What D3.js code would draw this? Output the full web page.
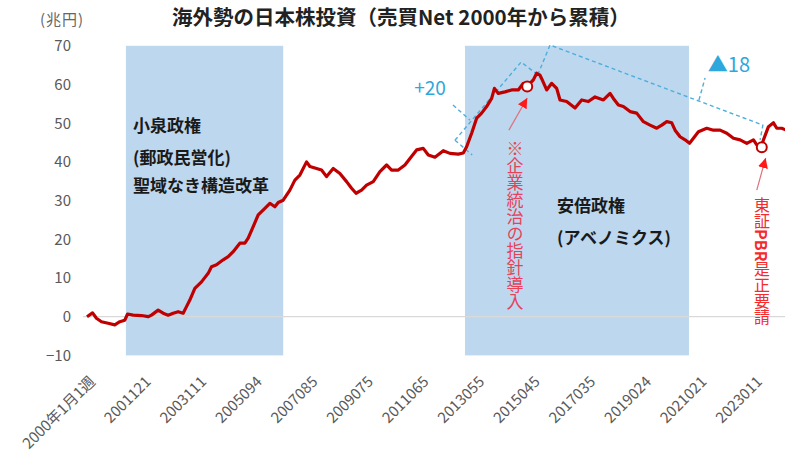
<!DOCTYPE html>
<html>
<head>
<meta charset="utf-8">
<script src="https://cdn.jsdelivr.net/npm/d3@7"></script>
<style>
  body { margin: 0; background: #fff; }
  svg { display: block; font-family: "Noto Sans CJK JP", "Noto Sans", sans-serif; }
</style>
</head>
<body>
<svg id="chart" width="785" height="470"></svg>
<script>
// week index counted from 2000年1月1週, cumulative net buying (兆円)
var weeks = [0,10,17,26,38,50,59,68,73,83,98,110,116,128,137,146,155,164,173,179,
  185,194,206,218,224,233,245,254,263,275,284,290,299,308,320,329,338,344,353,365,
  374,383,395,401,413,422,431,443,455,467,476,484,494,503,515,527,539,548,560,572,
  581,593,605,614,626,641,653,668,677,683,692,701,710,719,728,733,740,752,764,776,
  785,792,803,809,815,818,827,836,845,851,863,878,890,902,914,929,941,947,956,965,
  977,989,1001,1013,1025,1034,1043,1052,1058,1067,1076,1084,1091,1100,1115,1127,1139,1151,1163,1175,
  1187,1199,1205,1213,1217,1226,1235,1241,1250,1258];
var values = [0,1.0,-0.4,-1.3,-1.7,-2.1,-1.3,-0.9,0.7,0.4,0.3,0,0.4,1.7,0.9,0.4,0.9,1.3,0.9,2.6,
  4.3,7.3,9.0,11.2,12.9,13.4,14.7,15.5,16.8,19.0,19.0,20.3,23.3,26.3,28.0,29.3,28.4,29.5,30.1,32.7,
  35.3,36.6,40.0,38.8,38.3,37.9,36.2,38.3,37.0,34.9,33.2,31.9,32.7,34.0,34.9,37.5,39.2,37.9,37.9,39.2,
  40.9,43.1,43.5,41.8,41.2,42.9,42.2,42.0,42.3,43.9,47.4,51.3,52.6,54.3,56.4,59.0,57.7,58.1,58.6,58.6,
  60.3,59.5,61.2,62.9,62.4,61.5,58.6,60.3,59.0,56.0,55.6,53.9,56.0,55.6,56.8,56.0,57.7,56.4,54.7,54.3,
  53.0,52.6,50.4,49.5,48.7,49.5,50.4,50.1,48.2,46.5,45.7,44.8,46.1,47.8,48.7,48.2,48.2,47.4,46.1,45.7,
  44.8,45.7,44.4,43.8,45.7,49.1,50.1,48.7,48.7,48.2];

var tickWeeks = [0,100,200,300,400,500,600,700,800,900,1000,1100,1200];
var tickLabels = ["2000年1月1週","2001121","2003111","2005094","2007085","2009075",
  "2011065","2013055","2015045","2017035","2019024","2021021","2023011"];
var yTicks = [-10,0,10,20,30,40,50,60,70];

// government periods (week index)
var eraNames = [["小泉政権","(郵政民営化)","聖域なき構造改革"], ["安倍政権","(アベノミクス)"]];
var eraStart = [70, 680];
var eraEnd = [353, 1083];

// marked events [week, value]
var eventPoints = [[792, 59.5], [1214, 43.8]];

var svg = d3.select("#chart");

var x = d3.scaleLinear().domain([0, 1200]).range([87, 754]);
var y = d3.scaleLinear().domain([-10, 70]).range([355.4, 45.8]);

// shaded periods
svg.selectAll(".era")
  .data(eraStart)
  .enter()
  .append("rect")
  .attr("x", function (d) { return x(d); })
  .attr("width", function (d, i) { return x(eraEnd[i]) - x(d); })
  .attr("y", y(70))
  .attr("height", y(-10) - y(70))
  .attr("fill", "#bdd7ee");

// zero line
svg.append("line")
  .attr("x1", 83).attr("x2", 785)
  .attr("y1", y(0)).attr("y2", y(0))
  .attr("stroke", "#d9d9d9")
  .attr("stroke-width", 1.2);

// y axis labels
var yAxis = svg.append("g")
  .attr("transform", "translate(75,0)")
  .call(d3.axisLeft(y).tickValues(yTicks).tickSize(0).tickPadding(4));
yAxis.select(".domain").remove();
yAxis.selectAll("text")
  .attr("font-size", 15)
  .attr("font-family", "Noto Sans CJK JP")
  .attr("fill", "#595959");

// x axis labels
var xAxis = svg.append("g")
  .attr("transform", "translate(5,379)")
  .call(d3.axisBottom(x).tickValues(tickWeeks).tickSize(0)
    .tickFormat(function (d, i) { return tickLabels[i]; }));
xAxis.select(".domain").remove();
xAxis.selectAll("text")
  .attr("font-size", 15)
  .attr("font-family", "Noto Sans CJK JP")
  .attr("fill", "#595959")
  .attr("text-anchor", "end")
  .attr("dy", "0.35em")
  .attr("y", 0)
  .attr("transform", "rotate(-45)");

// era captions
var eraText = [[133, [126, 158, 186]], [557, [206, 238]]];
eraNames.forEach(function (lines, k) {
  lines.forEach(function (s, j) {
    svg.append("text")
      .attr("x", eraText[k][0])
      .attr("y", eraText[k][1][j])
      .attr("dy", "0.35em")
      .attr("font-size", 17)
      .attr("font-weight", "bold")
      .attr("fill", "#1a1a1a")
      .text(s);
  });
});

// dashed brackets (+20 rise, ▲18 fall)
var dash = [
  [[662, 45.6], [781, 65.8], [811, 62.5]],
  [[662, 45.6], [693, 41.8]],
  [[658.5, 54.7], [689, 50.8]],
  [[811, 62.5], [833, 70.2], [1216, 49.5], [1211, 45.7]],
  [[1101, 56.0], [1112, 61.7]]
];
var dashLine = d3.line()
  .x(function (d) { return x(d[0]); })
  .y(function (d) { return y(d[1]); });
svg.selectAll(".bracket")
  .data(dash)
  .enter()
  .append("path")
  .attr("d", dashLine)
  .attr("fill", "none")
  .attr("stroke", "#4eaedb")
  .attr("stroke-width", 1.4)
  .attr("stroke-dasharray", "4,3");

svg.append("text")
  .attr("x", x(617)).attr("y", y(59.1))
  .attr("dy", "0.35em")
  .attr("text-anchor", "middle")
  .attr("font-size", 19)
  .attr("fill", "#2ea7dc")
  .text("+20");
svg.append("text")
  .attr("x", x(1117)).attr("y", y(63.2))
  .attr("font-size", 20)
  .attr("fill", "#2ea7dc")
  .text("▲18");

// main line
var line = d3.line()
  .x(function (d) { return x(d); })
  .y(function (d, i) { return y(values[i]); });
svg.append("path")
  .datum(weeks)
  .attr("d", line)
  .attr("fill", "none")
  .attr("stroke", "#c00000")
  .attr("stroke-width", 3.2)
  .attr("stroke-linejoin", "round");

// event markers
svg.selectAll(".ev")
  .data(eventPoints)
  .enter()
  .append("circle")
  .attr("cx", function (d) { return x(d[0]); })
  .attr("cy", function (d) { return y(d[1]); })
  .attr("r", 5)
  .attr("fill", "#fff")
  .attr("stroke", "#c00000")
  .attr("stroke-width", 2);

// arrows
svg.append("defs").append("marker")
  .attr("id", "head")
  .attr("viewBox", "0 0 10 10")
  .attr("refX", 10).attr("refY", 5)
  .attr("markerWidth", 10).attr("markerHeight", 10)
  .attr("markerUnits", "userSpaceOnUse")
  .attr("orient", "auto")
  .append("path")
  .attr("d", "M0,0L10,5L0,10Z")
  .attr("fill", "#ff1a1a");

var arrows = [[[759, 48.2], [792, 56.5]], [[1205, 32.7], [1221, 41.0]]];
svg.selectAll(".arrow")
  .data(arrows)
  .enter()
  .append("path")
  .attr("d", dashLine)
  .attr("stroke", "#e0707e")
  .attr("stroke-width", 1.2)
  .attr("marker-end", "url(#head)");

// vertical notes
svg.append("text")
  .attr("x", x(770)).attr("y", y(45.6))
  .style("writing-mode", "vertical-rl")
  .attr("font-size", 17)
  .attr("fill", "#e8425a")
  .text("※企業統治の指針導入");

var note2 = svg.append("text")
  .attr("x", x(1214.5)).attr("y", y(30.9))
  .style("writing-mode", "vertical-rl")
  .attr("font-size", 16)
  .attr("fill", "#f52a2a");
note2.append("tspan").text("東証");
note2.append("tspan").attr("font-weight", "bold").text("PBR");
note2.append("tspan").text("是正要請");

// title and unit
svg.append("text")
  .attr("x", 172).attr("y", 18)
  .attr("dy", "0.35em")
  .attr("font-size", 20.5)
  .attr("font-weight", "bold")
  .attr("fill", "#222")
  .text("海外勢の日本株投資（売買Net 2000年から累積）");
svg.append("text")
  .attr("x", 40).attr("y", 20)
  .attr("dy", "0.35em")
  .attr("font-size", 15)
  .attr("letter-spacing", 1)
  .attr("fill", "#666")
  .text("(兆円)");
</script>
</body>
</html>
